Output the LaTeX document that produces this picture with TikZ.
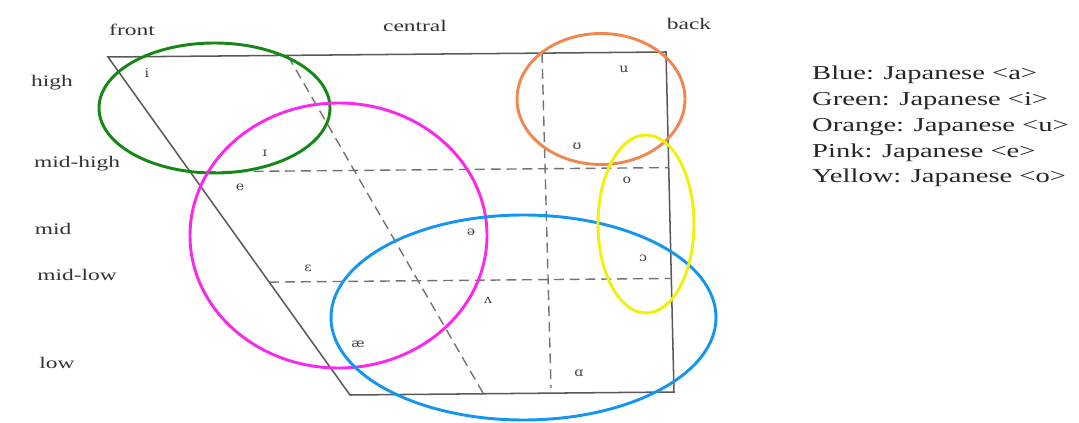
\documentclass[tikz,border=0pt]{standalone}
\usepackage{fontspec}
\setmainfont{Liberation Serif}
\newfontfamily\chartfont{Liberation Serif}[FakeStretch=1.45]
\newfontfamily\ipafont{DejaVu Serif}[FakeStretch=1.15]
\usepackage{xcolor}
\usetikzlibrary{positioning, calc}

\definecolor{ringgreen}{RGB}{20,135,20}
\definecolor{ringpink}{RGB}{250,40,235}
\definecolor{ringblue}{RGB}{20,150,240}
\definecolor{ringorange}{RGB}{240,135,80}
\definecolor{ringyellow}{RGB}{240,240,10}

\begin{document}
\begin{tikzpicture}[
    x=0.03cm, y=-0.03cm,
    chart/.style={draw=black!65, line width=1.3pt},
    guide/.style={draw=black!55, line width=1.2pt, dash pattern=on 8.5pt off 5pt},
    ring/.style={line width=2.5pt},
    axis/.style={font=\chartfont\fontsize{13.8}{16}\selectfont, text=black!80, inner sep=0pt},
    vowel/.style={font=\ipafont\fontsize{10.5}{12}\selectfont, text=black!75, inner sep=0pt},
    legend/.style={font=\chartfont\fontsize{16.8}{20}\selectfont, text=black!85, inner sep=0pt, anchor=base west}
]
\useasboundingbox (0,0) rectangle (1079,423);

% Chart outline
\coordinate (TL) at (108,57);
\coordinate (TR) at (666,52);
\coordinate (BR) at (674,392);
\coordinate (BL) at (350,395);
\draw[chart] (BL) -- (TL) -- (TR) -- (BR) -- cycle;

% Guide lines
\coordinate (MHl) at ($(TL)!0.34!(BL)$);
\coordinate (MHr) at ($(TR)!0.34!(BR)$);
\coordinate (MLl) at ($(TL)!0.666!(BL)$);
\coordinate (MLr) at ($(TR)!0.666!(BR)$);
\coordinate (Ctop) at (288,56);
\coordinate (Cbot) at (483,393);
\coordinate (Btop) at (542,53);
\coordinate (Bbot) at (551,388);
\draw[guide] (MHl) -- (MHr);
\draw[guide] (MLl) -- (MLr);
\draw[guide] (Ctop) -- (Cbot);
\draw[guide] (Btop) -- (Bbot);

% Axis labels
\node[axis] (front) at (132,30) {front};
\node[axis] (central) at (415,26) {central};
\node[axis] (back) at (689,24) {back};
\node[axis] (high) at (52,83) {high};
\node[axis] (midhigh) at (77,164) {mid-high};
\node[axis] (mid) at (53,229) {mid};
\node[axis] (midlow) at (77,275) {mid-low};
\node[axis] (low) at (57,363) {low};

% Vowels
\node[vowel] (vi) at (147,73) {i};
\node[vowel] (vsmi) at (265,153) {ɪ};
\node[vowel] (ve) at (240,187) {e};
\node[vowel] (veps) at (308,268) {ɛ};
\node[vowel] (vae) at (358,344) {æ};
\node[vowel] (vschwa) at (471,232) {ə};
\node[vowel] (vwedge) at (488,300) {ʌ};
\node[vowel] (valpha) at (579,373) {ɑ};
\node[vowel] (vu) at (624,69) {u};
\node[vowel] (vups) at (577,146) {ʊ};
\node[vowel] (vo) at (627,180) {o};
\node[vowel] (vopeno) at (643,258) {ɔ};

% Japanese vowel areas
\draw[ring, ringgreen] (214.5,108) ellipse [x radius=115.5, y radius=65];
\draw[ring, ringpink] (338.5,235.5) ellipse [x radius=148.5, y radius=132.5];
\draw[ring, ringblue] (523.5,317.5) ellipse [x radius=192.5, y radius=102.5];
\draw[ring, ringorange] (601,99) ellipse [x radius=84, y radius=65.5];
\draw[ring, ringyellow] (646,224) ellipse [x radius=48, y radius=89];

% Legend
\node[legend] (leg1) at (812,80) {Blue: Japanese <a>};
\node[legend] (leg2) at (812,106) {Green: Japanese <i>};
\node[legend] (leg3) at (812,131.5) {Orange: Japanese <u>};
\node[legend] (leg4) at (812,157) {Pink: Japanese <e>};
\node[legend] (leg5) at (812,183) {Yellow: Japanese <o>};

\end{tikzpicture}
\end{document}
